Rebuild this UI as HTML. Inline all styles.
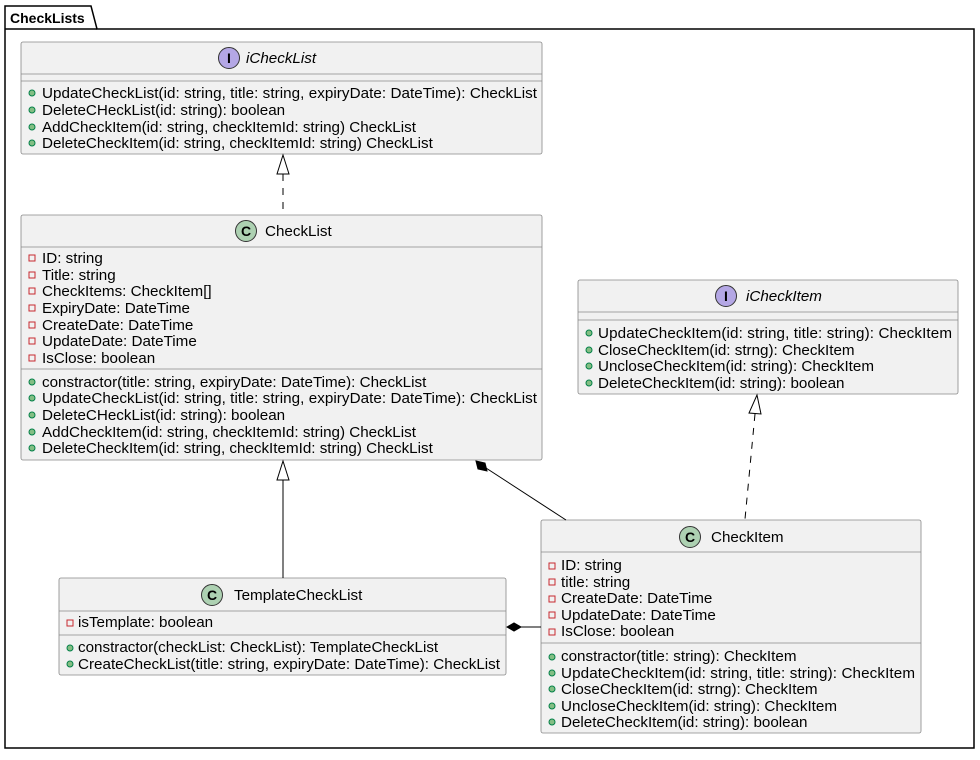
<!DOCTYPE html>
<html><head><meta charset="utf-8"><style>
html,body{margin:0;padding:0;background:#fff;}
svg text{font-family:"Liberation Sans",sans-serif;font-size:15.2px;fill:#000;}
</style></head><body>
<svg width="980" height="755" viewBox="0 0 980 755" xmlns="http://www.w3.org/2000/svg">
<defs>
<g id="pub"><circle r="3" fill="#84BE84" stroke="#038048" stroke-width="1"/></g>
<g id="priv"><rect x="-3" y="-3" width="6" height="6" fill="none" stroke="#C82930" stroke-width="1"/></g>
</defs>
<!-- package -->
<path d="M5,29 L5,6 L91,6 L97,29 L974,29 L974,748 L5,748 Z" fill="none" stroke="#000" stroke-width="1.5"/>
<line x1="5" y1="29" x2="97" y2="29" stroke="#000" stroke-width="1.5"/>
<text x="10" y="23" style="font-weight:bold;font-size:14px">CheckLists</text>

<!-- iCheckList -->
<rect x="21" y="42" width="521" height="112" rx="2" fill="#F1F1F1" stroke="#888" stroke-width="0.8"/>
<line x1="21" y1="74" x2="542" y2="74" stroke="#888" stroke-width="0.8"/>
<line x1="21" y1="81" x2="542" y2="81" stroke="#888" stroke-width="0.8"/>
<circle cx="229" cy="58" r="10.5" fill="#B4A7E5" stroke="#333" stroke-width="1"/>
<text x="229" y="63" text-anchor="middle" style="font-weight:bold;font-size:14px">I</text>
<text x="246" y="63" style="font-style:italic">iCheckList</text>
<use href="#pub" x="32" y="93"/><text x="42" y="98" textLength="495">UpdateCheckList(id: string, title: string, expiryDate: DateTime): CheckList</text>
<use href="#pub" x="32" y="110"/><text x="42" y="115">DeleteCHeckList(id: string): boolean</text>
<use href="#pub" x="32" y="127"/><text x="42" y="132">AddCheckItem(id: string, checkItemId: string) CheckList</text>
<use href="#pub" x="32" y="143"/><text x="42" y="148">DeleteCheckItem(id: string, checkItemId: string) CheckList</text>

<!-- CheckList -->
<rect x="21" y="215" width="521" height="245" rx="2" fill="#F1F1F1" stroke="#888" stroke-width="0.8"/>
<line x1="21" y1="247" x2="542" y2="247" stroke="#888" stroke-width="0.8"/>
<line x1="21" y1="369" x2="542" y2="369" stroke="#888" stroke-width="0.8"/>
<circle cx="246" cy="231" r="10.5" fill="#ADD1B2" stroke="#333" stroke-width="1"/>
<text x="246" y="236" text-anchor="middle" style="font-weight:bold;font-size:14px">C</text>
<text x="265" y="236">CheckList</text>
<use href="#priv" x="32" y="258"/><text x="42" y="263">ID: string</text>
<use href="#priv" x="32" y="275"/><text x="42" y="280">Title: string</text>
<use href="#priv" x="32" y="291"/><text x="42" y="296">CheckItems: CheckItem[]</text>
<use href="#priv" x="32" y="308"/><text x="42" y="313">ExpiryDate: DateTime</text>
<use href="#priv" x="32" y="325"/><text x="42" y="330">CreateDate: DateTime</text>
<use href="#priv" x="32" y="341"/><text x="42" y="346">UpdateDate: DateTime</text>
<use href="#priv" x="32" y="358"/><text x="42" y="363">IsClose: boolean</text>
<use href="#pub" x="32" y="382"/><text x="42" y="387">constractor(title: string, expiryDate: DateTime): CheckList</text>
<use href="#pub" x="32" y="398"/><text x="42" y="403" textLength="495">UpdateCheckList(id: string, title: string, expiryDate: DateTime): CheckList</text>
<use href="#pub" x="32" y="415"/><text x="42" y="420">DeleteCHeckList(id: string): boolean</text>
<use href="#pub" x="32" y="432"/><text x="42" y="437">AddCheckItem(id: string, checkItemId: string) CheckList</text>
<use href="#pub" x="32" y="448"/><text x="42" y="453">DeleteCheckItem(id: string, checkItemId: string) CheckList</text>

<!-- iCheckItem -->
<rect x="578" y="280" width="380" height="114" rx="2" fill="#F1F1F1" stroke="#888" stroke-width="0.8"/>
<line x1="578" y1="312" x2="958" y2="312" stroke="#888" stroke-width="0.8"/>
<line x1="578" y1="320" x2="958" y2="320" stroke="#888" stroke-width="0.8"/>
<circle cx="726" cy="296" r="10.5" fill="#B4A7E5" stroke="#333" stroke-width="1"/>
<text x="726" y="301" text-anchor="middle" style="font-weight:bold;font-size:14px">I</text>
<text x="746" y="301" style="font-style:italic">iCheckItem</text>
<use href="#pub" x="589" y="333"/><text x="598" y="338" textLength="354">UpdateCheckItem(id: string, title: string): CheckItem</text>
<use href="#pub" x="589" y="350"/><text x="598" y="355">CloseCheckItem(id: strng): CheckItem</text>
<use href="#pub" x="589" y="366"/><text x="598" y="371">UncloseCheckItem(id: string): CheckItem</text>
<use href="#pub" x="589" y="383"/><text x="598" y="388">DeleteCheckItem(id: string): boolean</text>

<!-- CheckItem -->
<rect x="541" y="520" width="380" height="213" rx="2" fill="#F1F1F1" stroke="#888" stroke-width="0.8"/>
<line x1="541" y1="552" x2="921" y2="552" stroke="#888" stroke-width="0.8"/>
<line x1="541" y1="643" x2="921" y2="643" stroke="#888" stroke-width="0.8"/>
<circle cx="690" cy="537" r="10.5" fill="#ADD1B2" stroke="#333" stroke-width="1"/>
<text x="690" y="542" text-anchor="middle" style="font-weight:bold;font-size:14px">C</text>
<text x="711" y="542">CheckItem</text>
<use href="#priv" x="552" y="566"/><text x="561" y="570">ID: string</text>
<use href="#priv" x="552" y="582"/><text x="561" y="587">title: string</text>
<use href="#priv" x="552" y="599"/><text x="561" y="603">CreateDate: DateTime</text>
<use href="#priv" x="552" y="615"/><text x="561" y="620">UpdateDate: DateTime</text>
<use href="#priv" x="552" y="632"/><text x="561" y="636">IsClose: boolean</text>
<use href="#pub" x="552" y="657"/><text x="561" y="661">constractor(title: string): CheckItem</text>
<use href="#pub" x="552" y="673"/><text x="561" y="678" textLength="354">UpdateCheckItem(id: string, title: string): CheckItem</text>
<use href="#pub" x="552" y="689"/><text x="561" y="694">CloseCheckItem(id: strng): CheckItem</text>
<use href="#pub" x="552" y="706"/><text x="561" y="711">UncloseCheckItem(id: string): CheckItem</text>
<use href="#pub" x="552" y="722"/><text x="561" y="727">DeleteCheckItem(id: string): boolean</text>

<!-- TemplateCheckList -->
<rect x="59" y="578" width="447" height="97" rx="2" fill="#F1F1F1" stroke="#888" stroke-width="0.8"/>
<line x1="59" y1="611" x2="506" y2="611" stroke="#888" stroke-width="0.8"/>
<line x1="59" y1="635" x2="506" y2="635" stroke="#888" stroke-width="0.8"/>
<circle cx="212" cy="595" r="10.5" fill="#ADD1B2" stroke="#333" stroke-width="1"/>
<text x="212" y="600" text-anchor="middle" style="font-weight:bold;font-size:14px">C</text>
<text x="234" y="600">TemplateCheckList</text>
<use href="#priv" x="70" y="623"/><text x="78" y="627">isTemplate: boolean</text>
<use href="#pub" x="70" y="648"/><text x="78" y="652">constractor(checkList: CheckList): TemplateCheckList</text>
<use href="#pub" x="70" y="664"/><text x="78" y="669" textLength="422">CreateCheckList(title: string, expiryDate: DateTime): CheckList</text>

<!-- connectors -->
<line x1="283" y1="174" x2="283" y2="214" stroke="#000" stroke-dasharray="7,7"/>
<polygon points="283,155 277,174 289,174" fill="#fff" stroke="#000"/>
<line x1="283" y1="480" x2="283" y2="578" stroke="#000"/>
<polygon points="283,461 277,480 289,480" fill="#fff" stroke="#000"/>
<line x1="755" y1="414" x2="745" y2="519" stroke="#000" stroke-dasharray="7,7"/>
<polygon points="757,395 749,413 761,414" fill="#fff" stroke="#000"/>
<line x1="486" y1="468" x2="566" y2="520" stroke="#000"/>
<polygon points="476,461 485,463 487,471 478,469" fill="#000" stroke="#000"/>
<line x1="521" y1="627" x2="541" y2="627" stroke="#000"/>
<polygon points="507,627 514,623 521,627 514,631" fill="#000" stroke="#000"/>
</svg>
</body></html>
